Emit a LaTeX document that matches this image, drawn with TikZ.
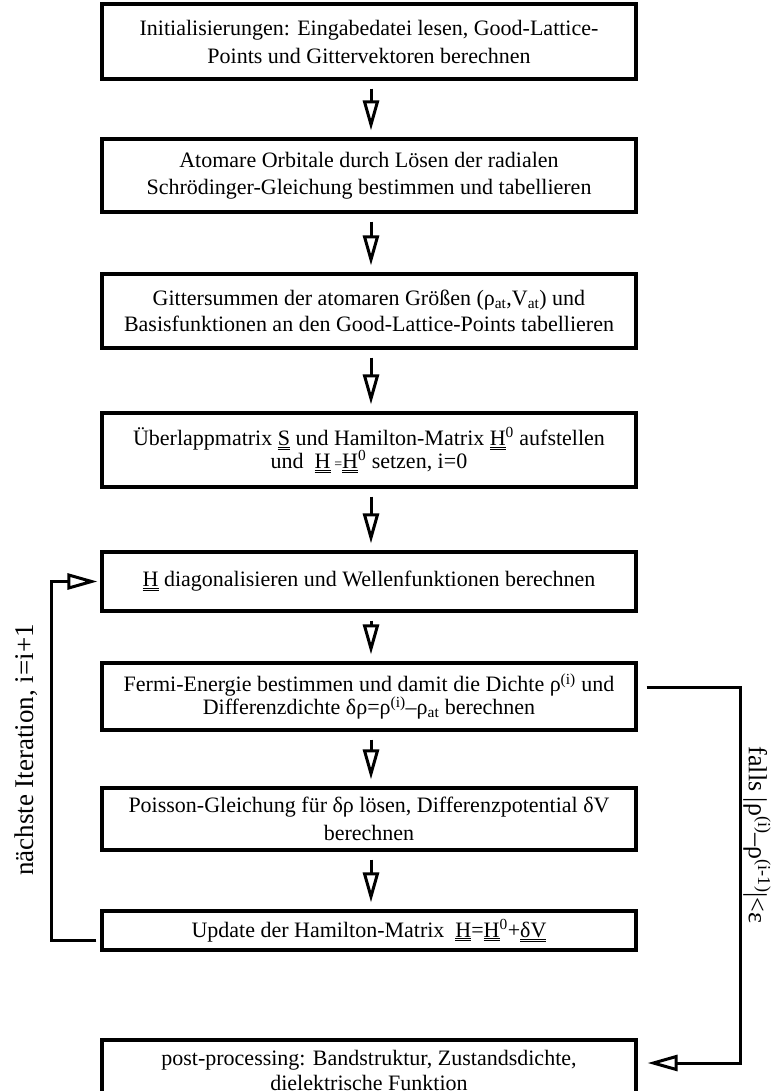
\documentclass[tikz,border=0pt]{standalone}
\usepackage{fontspec}
\setmainfont{Liberation Serif}
\usetikzlibrary{arrows.meta}
\newcommand\dul[1]{\underline{\underline{#1}}}
\begin{document}
\begin{tikzpicture}[x=1pt,y=-1pt,
  stepbox/.style={draw, line width=3.2pt, minimum width=534pt, inner sep=0pt, align=center},
  fs/.style={font=\fontsize{22}{#1}\selectfont},
  tip/.style={-{Triangle[open,length=30pt,width=16pt]}},
  flow/.style={line width=3pt, tip, shorten >=7pt, shorten <=8pt},
  loopline/.style={line width=3pt, tip},
  sidelabel/.style={font=\fontsize{27}{30}\selectfont, inner sep=0pt}]
\useasboundingbox (0,0) rectangle (773,1091);
\clip (0,0) rectangle (773,1091);
\node[stepbox, fs=28, minimum height=75pt] (b1) at (369,41.5)
  {Initialisierungen: Eingabedatei lesen, Good-Lattice-\\Points und Gittervektoren berechnen};
\node[stepbox, fs=27, minimum height=73pt] (b2) at (369,175.5)
  {Atomare Orbitale durch Lösen der radialen\\Schrödinger-Gleichung bestimmen und tabellieren};
\node[stepbox, fs=26, minimum height=74pt] (b3) at (369,311)
  {Gittersummen der atomaren Größen (ρ\textsubscript{at},V\textsubscript{at}) und\\Basisfunktionen an den Good-Lattice-Points tabellieren};
\node[stepbox, fs=23, minimum height=74pt] (b4) at (369,450)
  {Überlappmatrix \dul{S} und Hamilton-Matrix \dul{H}\textsuperscript{0} aufstellen\\und\ \ \dul{H}\,{\fontsize{14}{14}\selectfont=}\dul{H}\textsuperscript{0} setzen, i=0};
\node[stepbox, fs=26, minimum height=59pt] (b5) at (369,581.5)
  {\dul{H} diagonalisieren und Wellenfunktionen berechnen};
\node[stepbox, fs=23, minimum height=67pt] (b6) at (369,696.5)
  {Fermi-Energie bestimmen und damit die Dichte ρ\textsuperscript{(i)} und\\Differenzdichte δρ=ρ\textsuperscript{(i)}–ρ\textsubscript{at} berechnen};
\node[stepbox, fs=28, minimum height=62pt] (b7) at (369,819)
  {Poisson-Gleichung für δρ lösen, Differenzpotential δV\\berechnen};
\node[stepbox, fs=26, minimum height=39pt] (b8) at (369,930.5)
  {Update der Hamilton-Matrix\ \ \dul{H}=\dul{H}\textsuperscript{0}+\dul{δV}};
\node[stepbox, fs=25, minimum height=60pt] (b9) at (369,1070)
  {post-processing: Bandstruktur, Zustandsdichte,\\dielektrische Funktion};
\foreach \a/\b in {b1/b2,b2/b3,b3/b4,b4/b5,b5/b6,b6/b7,b7/b8}
  \draw[flow] ([xshift=2pt]\a.south) -- ([xshift=2pt]\b.north);
\coordinate (lx) at (51,0);
\coordinate (rx) at (740,0);
\draw[loopline] ([xshift=-4pt,yshift=-10pt]b8.west) -| (lx |- b5.west) -- ([xshift=-3pt]b5.west);
\draw[loopline] ([xshift=9pt,yshift=9.5pt]b6.east) -| (rx |- 0,1063) -- ([xshift=10pt]b9.east |- 0,1063);
\node[sidelabel, rotate=90] (lbl1) at (26,750) {nächste Iteration, i=i+1};
\node[sidelabel, font=\fontsize{26}{30}\selectfont, rotate=-90] (lbl2) at (757,835) {falls |ρ\textsuperscript{(i)}–ρ\textsuperscript{(i-1)}|<ε};
\end{tikzpicture}
\end{document}
